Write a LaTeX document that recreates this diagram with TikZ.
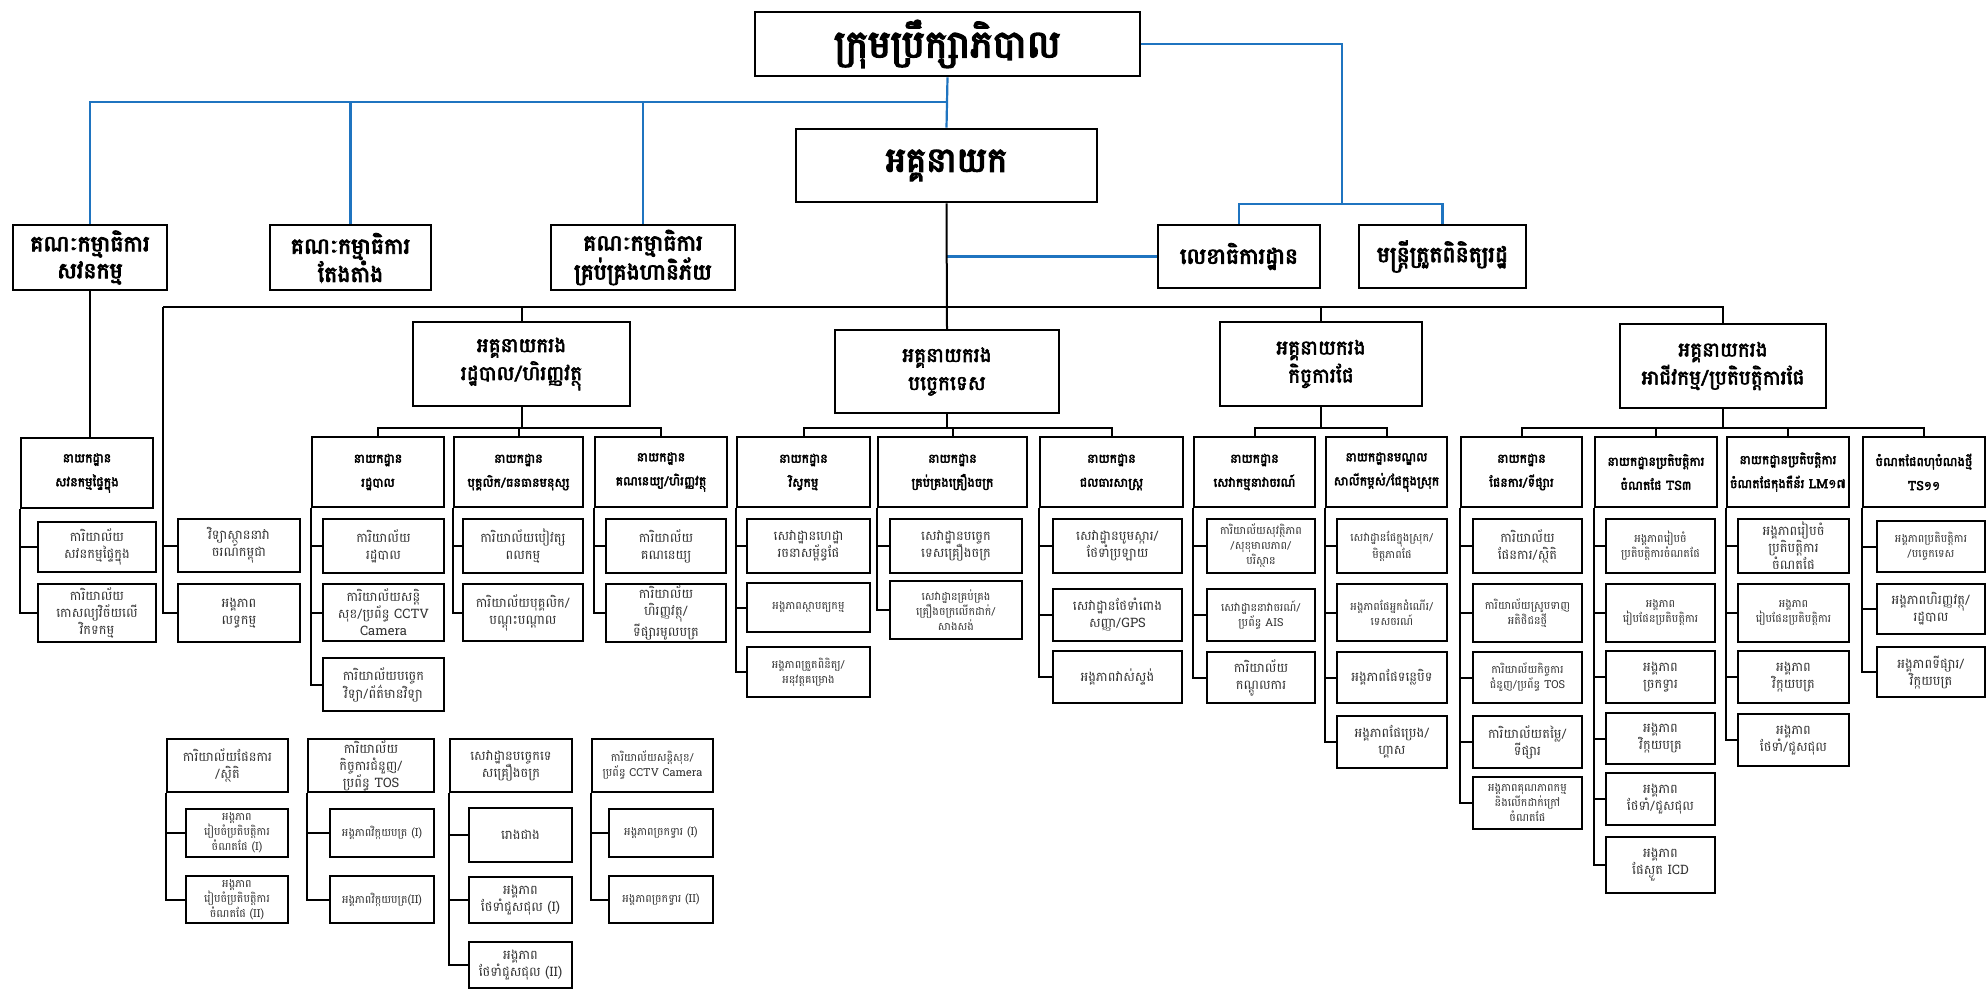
\documentclass[tikz,border=0pt]{standalone}
\usepackage{fontspec}
\usepackage{tikz}
\usetikzlibrary{calc}
\newfontfamily\khmer[Script=Khmer]{Battambang}
\newfontfamily\khmerbf[Script=Khmer,FakeBold=3]{Battambang}
\newfontfamily\khmerhv[Script=Khmer,FakeBold=4]{Battambang}
\definecolor{lineblue}{HTML}{1F74C0}

% box given by its corners (x1,y1) (x2,y2), y counted downwards
\newcommand{\orgbox}[7]{%
  \node[#1,minimum width={#5-#3},minimum height={#6-#4}] (#2) at ({(#3+#5)/2},{-(#4+#6)/2}) {#7};}

\tikzset{
  unit/.style={draw,line width=2pt,align=center,inner sep=1pt,text=black!80,font=\khmer\fontsize{13}{17}\selectfont},
  tight/.style={unit,font=\khmer\fontsize{11}{15}\selectfont},
  dept/.style={unit,line width=2.2pt,text=black,font=\khmerbf\fontsize{12.5}{24}\selectfont},
  dirbox/.style={unit,line width=2.2pt,text=black,font=\khmerbf\fontsize{20}{28}\selectfont},
  board/.style={unit,line width=2.4pt,text=black,font=\khmerhv\fontsize{22}{27}\selectfont},
  headbox/.style={unit,line width=2.6pt,text=black,font=\khmerhv\fontsize{38}{40}\selectfont},
  ceobox/.style={headbox,font=\khmerhv\fontsize{34}{40}\selectfont},
  link/.style={line width=2pt},
  blink/.style={line width=2.2pt,lineblue}
}

\begin{document}
\begin{tikzpicture}[x=1pt,y=1pt]

	\fill[white] (0,0) rectangle (1987,-990);
	\useasboundingbox (0,0) rectangle (1987,-990);

	%--- TOP BOXES -----------------------------
	\orgbox{headbox}{title}{755}{12}{1140}{76}{ក្រុមប្រឹក្សាភិបាល}
	\orgbox{ceobox}{ceo}{796}{129}{1097}{202}{អគ្គនាយក}

	% Committees
	\orgbox{board}{b1}{13}{225}{167}{290}{គណៈកម្មាធិការ\\សវនកម្ម}
	\orgbox{board}{b2}{270}{225}{431}{290}{គណៈកម្មាធិការ\\តែងតាំង}
	\orgbox{board}{b3}{551}{225}{735}{290}{គណៈកម្មាធិការ\\គ្រប់គ្រងហានិភ័យ}
	\orgbox{board}{b4}{1158}{225}{1320}{288}{លេខាធិការដ្ឋាន}
	\orgbox{board}{b5}{1359}{225}{1526}{288}{មន្ត្រីត្រួតពិនិត្យរដ្ឋ}

	% Deputy directors
	\orgbox{dirbox}{dir1}{413}{322}{630}{406}{អគ្គនាយករង\\រដ្ឋបាល/ហិរញ្ញវត្ថុ}
	\orgbox{dirbox}{dir2}{835}{330}{1059}{413}{អគ្គនាយករង\\បច្ចេកទេស}
	\orgbox{dirbox}{dir3}{1220}{322}{1422}{406}{អគ្គនាយករង\\កិច្ចការផែ}
	\orgbox{dirbox}{dir4}{1620}{324}{1826}{408}{អគ្គនាយករង\\អាជីវកម្ម/ប្រតិបត្តិការផែ}

	%--- DEPARTMENTS ---------------------------

	% Audit + institute
	\orgbox{dept}{audit}{21}{438}{153}{508}{នាយកដ្ឋាន\\សវនកម្មផ្ទៃក្នុង}
	\orgbox{unit}{audA}{38}{522}{156}{572}{ការិយាល័យ\\សវនកម្មផ្ទៃក្នុង}
	\orgbox{unit}{audB}{38}{584}{156}{642}{ការិយាល័យ\\កោសល្យវិច័យលើ\\វិកទកម្ម}
	\orgbox{unit}{inst}{178}{519}{300}{572}{វិទ្យាស្ថាននាវា\\ចរណ៍កម្ពុជា}
	\orgbox{unit}{proc}{178}{584}{300}{642}{អង្គភាព\\លទ្ធកម្ម}

	% Admin / finance
	\orgbox{dept}{adm}{312}{437}{444}{507}{នាយកដ្ឋាន\\រដ្ឋបាល}
	\orgbox{unit}{admA}{323}{519}{444}{573}{ការិយាល័យ\\រដ្ឋបាល}
	\orgbox{unit}{admB}{323}{584}{444}{641}{ការិយាល័យសន្តិ\\សុខ/ប្រព័ន្ធ CCTV\\Camera}
	\orgbox{unit}{admC}{323}{658}{444}{711}{ការិយាល័យបច្ចេក\\វិទ្យា/ព័ត៌មានវិទ្យា}
	\orgbox{dept}{hr}{454}{437}{583}{507}{នាយកដ្ឋាន\\បុគ្គលិក/ធនធានមនុស្ស}
	\orgbox{unit}{hrA}{463}{519}{583}{573}{ការិយាល័យបៀវត្ស\\ពលកម្ម}
	\orgbox{unit}{hrB}{463}{584}{583}{641}{ការិយាល័យបុគ្គលិក/\\បណ្តុះបណ្តាល}
	\orgbox{dept}{acc}{595}{437}{727}{507}{នាយកដ្ឋាន\\គណនេយ្យ/ហិរញ្ញវត្ថុ}
	\orgbox{unit}{accA}{606}{519}{726}{573}{ការិយាល័យ\\គណនេយ្យ}
	\orgbox{unit}{accB}{606}{584}{726}{642}{ការិយាល័យ\\ហិរញ្ញវត្ថុ/\\ទីផ្សារមូលបត្រ}

	% Technical
	\orgbox{dept}{eng}{737}{437}{870}{507}{នាយកដ្ឋាន\\វិស្វកម្ម}
	\orgbox{unit}{engA}{747}{519}{870}{573}{សេវាដ្ឋានហេដ្ឋា\\រចនាសម្ព័ន្ធផែ}
	\orgbox{tight}{engB}{747}{583}{870}{632}{អង្គភាពស្ថាបត្យកម្ម}
	\orgbox{tight}{engC}{747}{647}{870}{697}{អង្គភាពត្រួតពិនិត្យ/\\អនុវត្តគម្រោង}
	\orgbox{dept}{mach}{878}{437}{1027}{507}{នាយកដ្ឋាន\\គ្រប់គ្រងគ្រឿងចក្រ}
	\orgbox{unit}{machA}{890}{519}{1022}{573}{សេវាដ្ឋានបច្ចេក\\ទេសគ្រឿងចក្រ}
	\orgbox{tight}{machB}{890}{581}{1022}{639}{សេវាដ្ឋានគ្រប់គ្រង\\គ្រឿងចក្រលើកដាក់/\\សាងសង់}
	\orgbox{dept}{hyd}{1040}{437}{1183}{507}{នាយកដ្ឋាន\\ជលធារសាស្ត្រ}
	\orgbox{unit}{hydA}{1053}{519}{1182}{573}{សេវាដ្ឋានបូមស្ការ/\\ថែទាំប្រឡាយ}
	\orgbox{unit}{hydB}{1053}{589}{1182}{641}{សេវាដ្ឋានថែទាំពោង\\សញ្ញា/GPS}
	\orgbox{unit}{hydC}{1053}{651}{1182}{703}{អង្គភាពវាស់ស្ទង់}

	% Port affairs
	\orgbox{dept}{mar}{1194}{437}{1315}{507}{នាយកដ្ឋាន\\សេវាកម្មនាវាចរណ៍}
	\orgbox{tight}{marA}{1207}{519}{1315}{573}{ការិយាល័យសុវត្ថិភាព\\/សុខុមាលភាព/\\បរិស្ថាន}
	\orgbox{tight}{marB}{1207}{589}{1315}{641}{សេវាដ្ឋាននាវាចរណ៍/\\ប្រព័ន្ធ AIS}
	\orgbox{unit}{marC}{1207}{652}{1315}{703}{ការិយាល័យ\\កណ្តូលការ}
	\orgbox{dept}{inl}{1326}{437}{1447}{507}{នាយកដ្ឋានមណ្ឌល\\សាលីកម្ពស់/ផែក្នុងស្រុក}
	\orgbox{tight}{inlA}{1337}{519}{1447}{573}{សេវាដ្ឋានផែក្នុងស្រុក/\\មិត្តភាពផែ}
	\orgbox{tight}{inlB}{1337}{584}{1447}{641}{អង្គភាពផែអ្នកដំណើរ/\\ទេសចរណ៍}
	\orgbox{unit}{inlC}{1337}{652}{1447}{703}{អង្គភាពផែទន្លេបិទ}
	\orgbox{unit}{inlD}{1337}{716}{1447}{768}{អង្គភាពផែប្រេង/\\ហ្គាស}

	% Business / operations
	\orgbox{dept}{pln}{1461}{437}{1582}{507}{នាយកដ្ឋាន\\ផែនការ/ទីផ្សារ}
	\orgbox{unit}{plnA}{1473}{519}{1582}{573}{ការិយាល័យ\\ផែនការ/ស្ថិតិ}
	\orgbox{tight}{plnB}{1473}{584}{1582}{642}{ការិយាល័យស្រូបទាញ\\អតិថិជនថ្មី}
	\orgbox{tight}{plnC}{1473}{652}{1582}{703}{ការិយាល័យកិច្ចការ\\ជំនួញ/ប្រព័ន្ធ TOS}
	\orgbox{unit}{plnD}{1473}{716}{1582}{768}{ការិយាល័យតម្លៃ/\\ទីផ្សារ}
	\orgbox{tight}{plnE}{1473}{777}{1582}{829}{អង្គភាពគុណភាពកម្ម\\និងលើកដាក់ក្រៅ\\ចំណតផែ}
	\orgbox{dept}{ts3}{1595}{437}{1717}{507}{នាយកដ្ឋានប្រតិបត្តិការ\\ចំណតផែ TS៣}
	\orgbox{tight}{ts3A}{1606}{519}{1715}{573}{អង្គភាពរៀបចំ\\ប្រតិបត្តិការចំណតផែ}
	\orgbox{tight}{ts3B}{1606}{584}{1715}{642}{អង្គភាព\\រៀបផែនប្រតិបត្តិការ}
	\orgbox{unit}{ts3C}{1606}{651}{1715}{703}{អង្គភាព\\ច្រកទ្វារ}
	\orgbox{unit}{ts3D}{1606}{713}{1715}{764}{អង្គភាព\\វិក្កយបត្រ}
	\orgbox{unit}{ts3E}{1606}{773}{1715}{825}{អង្គភាព\\ថែទាំ/ជួសជុល}
	\orgbox{unit}{ts3F}{1606}{837}{1715}{893}{អង្គភាព\\ផែស្ងួត ICD}
	\orgbox{dept}{lm}{1727}{437}{1849}{507}{នាយកដ្ឋានប្រតិបត្តិការ\\ចំណតផែកុងតឺន័រ LM១៧}
	\orgbox{unit}{lmA}{1738}{519}{1849}{573}{អង្គភាពរៀបចំ\\ប្រតិបត្តិការ\\ចំណតផែ}
	\orgbox{tight}{lmB}{1738}{584}{1849}{642}{អង្គភាព\\រៀបផែនប្រតិបត្តិការ}
	\orgbox{unit}{lmC}{1738}{651}{1849}{703}{អង្គភាព\\វិក្កយបត្រ}
	\orgbox{unit}{lmD}{1738}{714}{1849}{766}{អង្គភាព\\ថែទាំ/ជួសជុល}
	\orgbox{dept}{ts11}{1863}{437}{1985}{507}{ចំណតផែពហុបំណងថ្មី\\TS១១}
	\orgbox{tight}{ts11A}{1877}{521}{1985}{572}{អង្គភាពប្រតិបត្តិការ\\/បច្ចេកទេស}
	\orgbox{unit}{ts11B}{1877}{584}{1985}{634}{អង្គភាពហិរញ្ញវត្ថុ/\\រដ្ឋបាល}
	\orgbox{unit}{ts11C}{1877}{647}{1985}{697}{អង្គភាពទីផ្សារ/\\វិក្កយបត្រ}

	%--- LOOSE GROUPS (bottom left) ------------
	\orgbox{unit}{g1}{167}{739}{288}{792}{ការិយាល័យផែនការ\\/ស្ថិតិ}
	\orgbox{tight}{g1A}{186}{809}{288}{857}{អង្គភាព\\រៀបចំប្រតិបត្តិការ\\ចំណតផែ (I)}
	\orgbox{tight}{g1B}{186}{876}{288}{923}{អង្គភាព\\រៀបចំប្រតិបត្តិការ\\ចំណតផែ (II)}
	\orgbox{unit}{g2}{308}{739}{434}{792}{ការិយាល័យ\\កិច្ចការជំនួញ/\\ប្រព័ន្ធ TOS}
	\orgbox{tight}{g2A}{330}{809}{434}{857}{អង្គភាពវិក្កយបត្រ (I)}
	\orgbox{tight}{g2B}{330}{876}{434}{923}{អង្គភាពវិក្កយបត្រ(II)}
	\orgbox{unit}{g3}{450}{739}{572}{792}{សេវាដ្ឋានបច្ចេកទេ\\សគ្រឿងចក្រ}
	\orgbox{unit}{g3A}{469}{808}{572}{862}{រោងជាង}
	\orgbox{unit}{g3B}{469}{877}{572}{923}{អង្គភាព\\ថែទាំជួសជុល (I)}
	\orgbox{unit}{g3C}{469}{942}{572}{988}{អង្គភាព\\ថែទាំជួសជុល (II)}
	\orgbox{tight}{g4}{592}{739}{713}{792}{ការិយាល័យសន្តិសុខ/\\ប្រព័ន្ធ CCTV Camera}
	\orgbox{tight}{g4A}{609}{809}{713}{857}{អង្គភាពច្រកទ្វារ (I)}
	\orgbox{tight}{g4B}{609}{876}{713}{923}{អង្គភាពច្រកទ្វារ (II)}

	%--- BLUE LINES ----------------------------
	\coordinate (bl) at (947,-102);
	\coordinate (br) at (1342,-204);
	\draw[blink] (title.south) -- (ceo.north);
	\foreach \c in {b1,b2,b3}
		\draw[blink] (bl) -| (\c.north);
	\draw[blink] (title.east) -| (br);
	\foreach \c in {b4,b5}
		\draw[blink] (br) -| (\c.north);
	\draw[blink] (ceo.south |- b4.west) -- (b4.west);

	%--- BLACK LINES ---------------------------

	% Main bus
	\coordinate (bus) at (947,-307);
	\coordinate (lsp) at (163,-307);
	\draw[link] (ceo.south) -- (dir2.north);
	\draw[link] (lsp) -| (dir4.north);
	\foreach \d in {dir1,dir3}
		\draw[link] (bus) -| (\d.north);
	\foreach \c in {inst,proc}
		\draw[link] (lsp) |- (\c.west);
	\draw[link] (b1.south) -- (b1.south |- audit.north);

	% Deputy directors to departments
	\draw[link] (dir1.south) -- ++(0,-21) coordinate (d1b);
	\draw[link] (dir2.south) -- ++(0,-14) coordinate (d2b);
	\draw[link] (dir3.south) -- ++(0,-21) coordinate (d3b);
	\draw[link] (dir4.south) -- ++(0,-19) coordinate (d4b);
	\foreach \c in {adm,hr,acc}
		\draw[link] (d1b) -| (\c.north);
	\foreach \c in {eng,mach,hyd}
		\draw[link] (d2b) -| (\c.north);
	\foreach \c in {mar,inl}
		\draw[link] (d3b) -| (\c.north);
	\foreach \c in {pln,ts3,lm,ts11}
		\draw[link] (d4b) -| (\c.north);

	% Departments to units (spine on the left edge)
	\foreach \p/\list in {audit/{audA,audB}, adm/{admA,admB,admC}, hr/{hrA,hrB},
			acc/{accA,accB}, eng/{engA,engB,engC}, mach/{machA,machB},
			hyd/{hydA,hydB,hydC}, mar/{marA,marB,marC}, inl/{inlA,inlB,inlC,inlD},
			pln/{plnA,plnB,plnC,plnD,plnE}, ts3/{ts3A,ts3B,ts3C,ts3D,ts3E,ts3F},
			lm/{lmA,lmB,lmC,lmD}, ts11/{ts11A,ts11B,ts11C},
			g1/{g1A,g1B}, g2/{g2A,g2B}, g3/{g3A,g3B,g3C}, g4/{g4A,g4B}}
		\foreach \c in \list
			\draw[link] (\p.south west) |- (\c.west);

\end{tikzpicture}
\end{document}
